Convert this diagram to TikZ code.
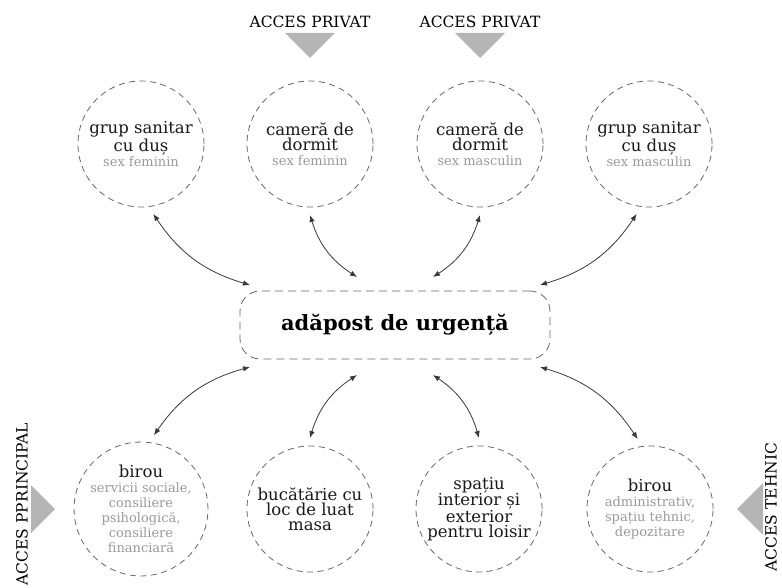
\documentclass[tikz,border=0pt]{standalone}
\usepackage{fontspec}
\setmainfont{DejaVu Serif}
\usetikzlibrary{calc,arrows.meta}
\tikzset{>={Latex[length=7pt,width=5.5pt]}}
\definecolor{dashgray}{rgb}{0.40,0.40,0.40}
\definecolor{subgray}{rgb}{0.60,0.60,0.60}
\definecolor{accgray}{rgb}{0.71,0.71,0.71}
\definecolor{linkgray}{rgb}{0.22,0.22,0.22}
\newcommand{\subtxt}[1]{{\color{subgray}\fontsize{13}{14}\selectfont #1}}
\tikzset{
  room/.style={circle, draw=dashgray, line width=0.8pt, dash pattern=on 6pt off 4.5pt,
    minimum size=126pt, inner sep=0pt, outer sep=8pt, align=center, text=black!90,
    font=\fontsize{16.5}{15}\selectfont},
  hub/.style={rectangle, rounded corners=20pt, draw=dashgray, line width=0.8pt,
    dash pattern=on 8pt off 5pt, minimum width=310pt, minimum height=68pt,
    font=\bfseries\fontsize{21}{24}\selectfont},
  link/.style={<->, draw=linkgray, line width=0.8pt},
  acces/.style={font=\fontsize{15.5}{18}\selectfont, inner sep=0pt}
}

\begin{document}
\begin{tikzpicture}[x=1pt,y=1pt]
  \useasboundingbox (0,0) rectangle (782,587);
  \def\ytop{443}  % top row of rooms
  \def\ybot{78}   % bottom row of rooms
  % rooms
  \node[room] (sanF) at (141,\ytop) {grup sanitar\\cu duș\\\subtxt{sex feminin}};
  \node[room] (dormF) at (310,\ytop) {cameră de\\dormit\\\subtxt{sex feminin}};
  \node[room] (dormM) at (480,\ytop) {cameră de\\dormit\\\subtxt{sex masculin}};
  \node[room] (sanM) at (649,\ytop) {grup sanitar\\cu duș\\\subtxt{sex masculin}};
  \node[room] (birouS) at (141,\ybot) {birou\\\subtxt{servicii sociale,}\\\subtxt{consiliere}\\\subtxt{psihologică,}\\\subtxt{consiliere}\\\subtxt{financiară}};
  \node[room] (bucat) at (310,\ybot) {bucătărie cu\\loc de luat\\masa};
  \node[room] (loisir) at (479,\ybot) {spațiu\\interior și\\exterior\\pentru loisir};
  \node[room] (birouA) at (650,\ybot) {birou\\\subtxt{administrativ,}\\\subtxt{spațiu tehnic,}\\\subtxt{depozitare}};
  \node[hub] (adapost) at (395,262) {adăpost de urgență};
  %
  % access points
  \node[acces] (accPrivF) at (310,565) {ACCES PRIVAT};
  \fill[accgray] (285,554) -- (335,554) -- (310,529) -- cycle;
  \node[acces] (accPrivM) at (480,565) {ACCES PRIVAT};
  \fill[accgray] (455,554) -- (505,554) -- (480,529) -- cycle;
  \node[acces, rotate=90] (accPrinc) at (22,83) {ACCES PPRINCIPAL};
  \fill[accgray] (31,102) -- (31,54) -- (55,78) -- cycle;
  \node[acces, rotate=90] (accTehnic) at (771,80) {ACCES TEHNIC};
  \fill[accgray] (763,104) -- (763,52) -- (737,78) -- cycle;
  %
  % links to the shelter
  \foreach \r/\a/\dx/\dy/\bnd in {sanF/-80/-145/40/-20, dormF/-90/-38/48/-20,
      dormM/-90/38/48/20, sanM/-100/145/40/20,
      birouS/80/-145/-42/20, bucat/90/-38/-50/20,
      loisir/90/38/-50/-20, birouA/100/145/-42/-20} {%
    \draw[link] (\r.\a) to[bend left=\bnd] ($(adapost)+(\dx,\dy)$);
  }
\end{tikzpicture}
\end{document}
